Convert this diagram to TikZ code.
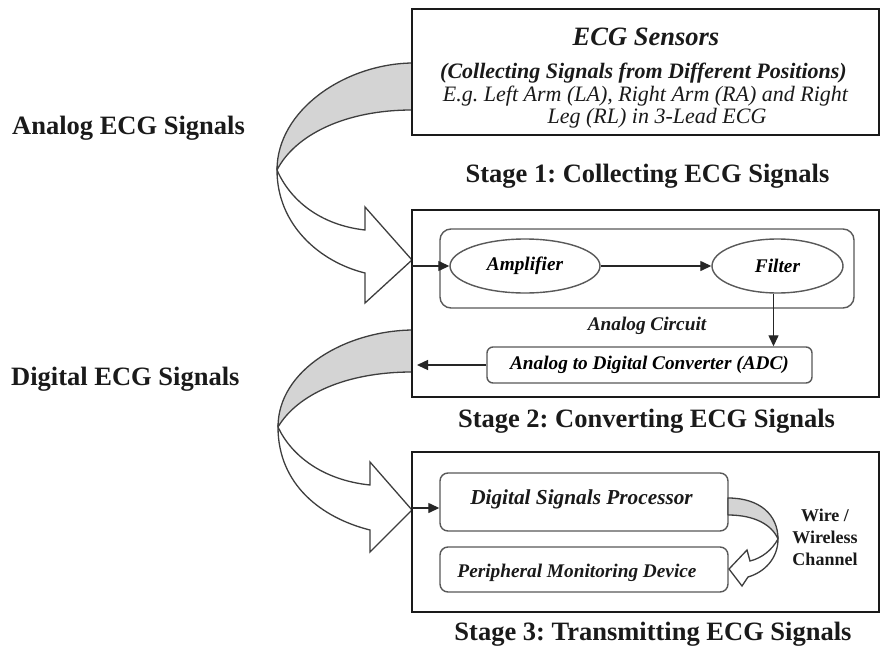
\documentclass[tikz,border=0pt]{standalone}
\usepackage{fontspec}
\setmainfont{Liberation Serif}
\usetikzlibrary{arrows.meta,shapes.geometric}

\definecolor{ribbon}{HTML}{D4D4D4}
\definecolor{ribbonedge}{HTML}{3E3E3E}
\definecolor{ink}{HTML}{1A1A1A}

\newcommand\ecgStage{\fontsize{26.5}{30}\selectfont\bfseries}
\newcommand\ecgHead{\fontsize{26.5}{30}\selectfont\bfseries\itshape}
\newcommand\ecgNote{\fontsize{22}{25}\selectfont\bfseries\itshape}
\newcommand\ecgExample{\fontsize{22}{25}\selectfont\itshape}
\newcommand\ecgPart{\fontsize{19.3}{22}\selectfont\bfseries\itshape}
\newcommand\ecgDsp{\fontsize{21.3}{24}\selectfont\bfseries\itshape}
\newcommand\ecgChan{\fontsize{18}{22}\selectfont\bfseries}

\begin{document}
\frenchspacing
\begin{tikzpicture}[x=1pt,y=-1pt,
  stagebox/.style={draw=ink, line width=2.6pt, fill=white, inner sep=0pt},
  subbox/.style={draw=black!65, line width=1.4pt, rounded corners=8pt, fill=white, inner sep=0pt},
  blob/.style={ellipse, draw=black!65, line width=1.4pt, fill=white, inner sep=0pt},
  flow/.style={draw=black!85, line width=1.3pt, -{Triangle[length=11pt,width=10pt]}},
  ribbonback/.style={fill=ribbon, draw=ribbonedge, line width=1.3pt, line join=round},
  ribbonfront/.style={fill=white, draw=ribbonedge, line width=1.3pt, line join=miter},
  txt/.style={inner sep=0pt, text=ink},
]
\useasboundingbox (0,0) rectangle (883,645);

% --- curved ribbon arrow: analog signals from the sensors to stage 2
\path[ribbonback] (412,63) .. controls (345,64) and (277,110) .. (277,170)
  .. controls (295,135) and (345,110) .. (412,110) -- cycle;
\path[ribbonfront] (277,170) .. controls (290,200) and (320,225) .. (365,230)
  -- (365,207) -- (412,260) -- (365,303) -- (365,273)
  .. controls (320,262) and (277,225) .. (277,170) -- cycle;

% --- curved ribbon arrow: digital signals from stage 2 to stage 3
\path[ribbonback] (412,330) .. controls (345,331) and (278,370) .. (278,427)
  .. controls (297,395) and (345,372) .. (412,372) -- cycle;
\path[ribbonfront] (278,427) .. controls (291,455) and (322,480) .. (370,485)
  -- (370,462) -- (412,510) -- (370,552) -- (370,530)
  .. controls (322,518) and (278,485) .. (278,427) -- cycle;

% --- stage boxes
\node[stagebox, minimum width=467pt, minimum height=126pt] (sensors) at (645.5,72) {};
\node[stagebox, minimum width=467pt, minimum height=187pt] (convert) at (645.5,303.5) {};
\node[stagebox, minimum width=467pt, minimum height=160pt] (transmit) at (645.5,532) {};

% sensor description
\node[txt, anchor=base, font=\ecgHead] (sensTitle) at (646,45) {ECG Sensors};
\node[txt, anchor=base, font=\ecgNote] (sensNote) at (643.5,78) {(Collecting Signals from Different Positions)};
\node[txt, anchor=base, font=\ecgExample] (sensEx1) at (645.5,101) {E.g. Left Arm (LA), Right Arm (RA) and Right};
\node[txt, anchor=base, font=\ecgExample] (sensEx2) at (657,123) {Leg (RL) in 3-Lead ECG};

% stage captions and side labels
\node[txt, anchor=base, font=\ecgStage] (cap1) at (647.5,182) {Stage 1: Collecting ECG Signals};
\node[txt, anchor=base, font=\ecgStage] (cap2) at (646.5,427) {Stage 2: Converting ECG Signals};
\node[txt, anchor=base, font=\ecgStage] (cap3) at (653,640) {Stage 3: Transmitting ECG Signals};
\node[txt, anchor=base west, font=\ecgStage] (analogLbl) at (12,134) {Analog ECG Signals};
\node[txt, anchor=base west, font=\ecgStage] (digitalLbl) at (11,385) {Digital ECG Signals};

% --- stage 2 internals
\node[subbox, rounded corners=11pt, minimum width=414pt, minimum height=79pt] (circuit) at (647,268.5) {};
\node[blob, minimum width=150pt, minimum height=54pt, font=\ecgPart] (amp) at (525,266) {Amplifier};
\node[blob, minimum width=131pt, minimum height=54pt, font=\ecgPart] (filter) at (777.5,266) {Filter};
\node[txt, anchor=base, font=\ecgPart] (circuitLbl) at (647,330) {Analog Circuit};
\node[subbox, rounded corners=6pt, minimum width=325pt, minimum height=36pt, font=\ecgPart] (adc) at (649.5,365) {Analog to Digital Converter (ADC)};

\coordinate (in2) at (412,266);
\coordinate (out2) at (417,365);
\draw[flow] (in2) -- (amp);
\draw[flow] (amp) -- (filter);
\draw[flow] ([xshift=-4pt]filter.south) -- ([xshift=-4pt]filter.south |- adc.north);
\draw[flow] (adc) -- (out2);

% --- stage 3 internals
\node[subbox, minimum width=288pt, minimum height=58pt] (dsp) at (584,502) {};
\node[subbox, minimum width=288pt, minimum height=45pt] (pmd) at (584,569.5) {};
\node[txt, anchor=base, font=\ecgDsp] (dspLbl) at (581.5,504) {Digital Signals Processor};
\node[txt, anchor=base, font=\ecgPart] (pmdLbl) at (577,577) {Peripheral Monitoring Device};

\coordinate (in3) at (412,508);
\draw[flow] (in3) -- (in3 -| dsp.west);

% channel ribbon between processor and monitoring device
\path[ribbonback] (728,498) .. controls (760,498) and (778,515) .. (778,539)
  .. controls (772,525) and (755,515) .. (728,515) -- cycle;
\path[ribbonfront] (778,539) .. controls (772,550) and (762,558) .. (750,561)
  -- (747,550) -- (729,569) -- (742,586) -- (748,577)
  .. controls (765,572) and (778,558) .. (778,539) -- cycle;

\node[txt, anchor=north, align=center, font=\ecgChan] (chanLbl) at (825,508.5) {Wire /\\Wireless\\Channel};

\end{tikzpicture}
\end{document}
